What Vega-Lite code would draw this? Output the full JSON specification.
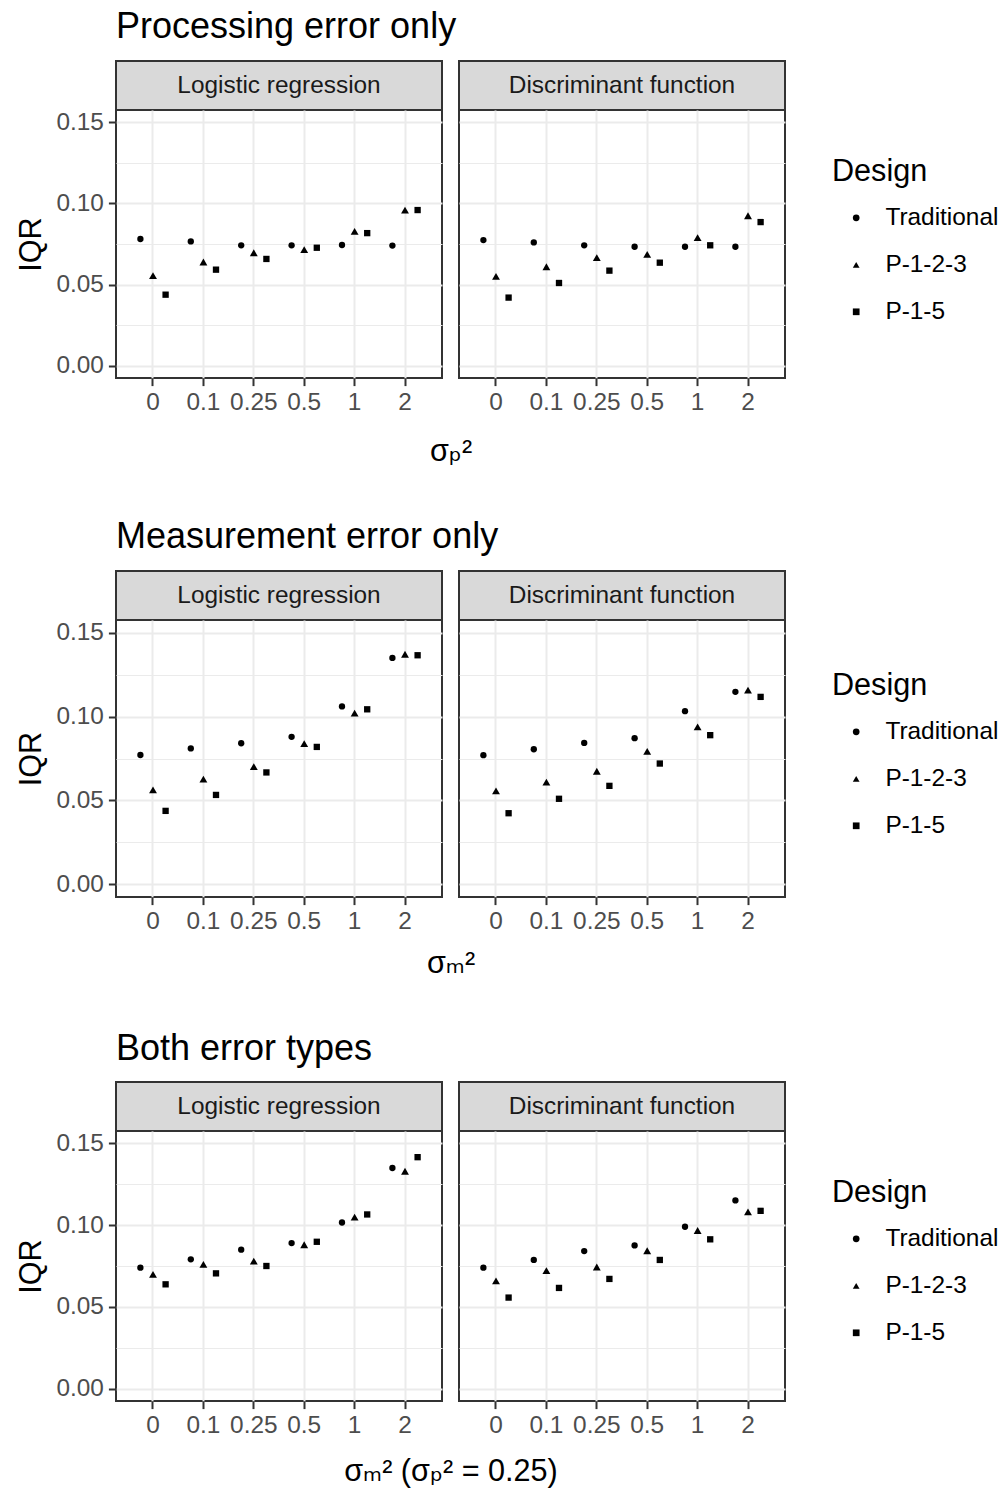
{
  "$schema": "https://vega.github.io/schema/vega-lite/v6.json",
  "background": "white",
  "autosize": {"type": "none"},
  "padding": {"left": 116, "top": 61, "right": 886, "bottom": 1434},
  "spacing": 50,
  "datasets": {
    "strips": [
      {"method": "Logistic regression"},
      {"method": "Discriminant function"}
    ],
    "pts": [
      {"section": "Processing", "method": "Logistic regression", "sigma": "0", "design": "Traditional", "iqr": 0.0781},
      {"section": "Processing", "method": "Logistic regression", "sigma": "0", "design": "P-1-2-3", "iqr": 0.0555},
      {"section": "Processing", "method": "Logistic regression", "sigma": "0", "design": "P-1-5", "iqr": 0.0438},
      {"section": "Processing", "method": "Logistic regression", "sigma": "0.1", "design": "Traditional", "iqr": 0.0766},
      {"section": "Processing", "method": "Logistic regression", "sigma": "0.1", "design": "P-1-2-3", "iqr": 0.0639},
      {"section": "Processing", "method": "Logistic regression", "sigma": "0.1", "design": "P-1-5", "iqr": 0.0592},
      {"section": "Processing", "method": "Logistic regression", "sigma": "0.25", "design": "Traditional", "iqr": 0.0742},
      {"section": "Processing", "method": "Logistic regression", "sigma": "0.25", "design": "P-1-2-3", "iqr": 0.0696},
      {"section": "Processing", "method": "Logistic regression", "sigma": "0.25", "design": "P-1-5", "iqr": 0.0658},
      {"section": "Processing", "method": "Logistic regression", "sigma": "0.5", "design": "Traditional", "iqr": 0.0742},
      {"section": "Processing", "method": "Logistic regression", "sigma": "0.5", "design": "P-1-2-3", "iqr": 0.0715},
      {"section": "Processing", "method": "Logistic regression", "sigma": "0.5", "design": "P-1-5", "iqr": 0.0727},
      {"section": "Processing", "method": "Logistic regression", "sigma": "1", "design": "Traditional", "iqr": 0.0744},
      {"section": "Processing", "method": "Logistic regression", "sigma": "1", "design": "P-1-2-3", "iqr": 0.0828},
      {"section": "Processing", "method": "Logistic regression", "sigma": "1", "design": "P-1-5", "iqr": 0.0817},
      {"section": "Processing", "method": "Logistic regression", "sigma": "2", "design": "Traditional", "iqr": 0.0740},
      {"section": "Processing", "method": "Logistic regression", "sigma": "2", "design": "P-1-2-3", "iqr": 0.0959},
      {"section": "Processing", "method": "Logistic regression", "sigma": "2", "design": "P-1-5", "iqr": 0.0959},
      {"section": "Processing", "method": "Discriminant function", "sigma": "0", "design": "Traditional", "iqr": 0.0774},
      {"section": "Processing", "method": "Discriminant function", "sigma": "0", "design": "P-1-2-3", "iqr": 0.0551},
      {"section": "Processing", "method": "Discriminant function", "sigma": "0", "design": "P-1-5", "iqr": 0.0420},
      {"section": "Processing", "method": "Discriminant function", "sigma": "0.1", "design": "Traditional", "iqr": 0.0760},
      {"section": "Processing", "method": "Discriminant function", "sigma": "0.1", "design": "P-1-2-3", "iqr": 0.0610},
      {"section": "Processing", "method": "Discriminant function", "sigma": "0.1", "design": "P-1-5", "iqr": 0.0510},
      {"section": "Processing", "method": "Discriminant function", "sigma": "0.25", "design": "Traditional", "iqr": 0.0742},
      {"section": "Processing", "method": "Discriminant function", "sigma": "0.25", "design": "P-1-2-3", "iqr": 0.0666},
      {"section": "Processing", "method": "Discriminant function", "sigma": "0.25", "design": "P-1-5", "iqr": 0.0586},
      {"section": "Processing", "method": "Discriminant function", "sigma": "0.5", "design": "Traditional", "iqr": 0.0733},
      {"section": "Processing", "method": "Discriminant function", "sigma": "0.5", "design": "P-1-2-3", "iqr": 0.0686},
      {"section": "Processing", "method": "Discriminant function", "sigma": "0.5", "design": "P-1-5", "iqr": 0.0635},
      {"section": "Processing", "method": "Discriminant function", "sigma": "1", "design": "Traditional", "iqr": 0.0733},
      {"section": "Processing", "method": "Discriminant function", "sigma": "1", "design": "P-1-2-3", "iqr": 0.0789},
      {"section": "Processing", "method": "Discriminant function", "sigma": "1", "design": "P-1-5", "iqr": 0.0742},
      {"section": "Processing", "method": "Discriminant function", "sigma": "2", "design": "Traditional", "iqr": 0.0733},
      {"section": "Processing", "method": "Discriminant function", "sigma": "2", "design": "P-1-2-3", "iqr": 0.0924},
      {"section": "Processing", "method": "Discriminant function", "sigma": "2", "design": "P-1-5", "iqr": 0.0885},
      {"section": "Measurement", "method": "Logistic regression", "sigma": "0", "design": "Traditional", "iqr": 0.0771},
      {"section": "Measurement", "method": "Logistic regression", "sigma": "0", "design": "P-1-2-3", "iqr": 0.0563},
      {"section": "Measurement", "method": "Logistic regression", "sigma": "0", "design": "P-1-5", "iqr": 0.0438},
      {"section": "Measurement", "method": "Logistic regression", "sigma": "0.1", "design": "Traditional", "iqr": 0.0810},
      {"section": "Measurement", "method": "Logistic regression", "sigma": "0.1", "design": "P-1-2-3", "iqr": 0.0627},
      {"section": "Measurement", "method": "Logistic regression", "sigma": "0.1", "design": "P-1-5", "iqr": 0.0533},
      {"section": "Measurement", "method": "Logistic regression", "sigma": "0.25", "design": "Traditional", "iqr": 0.0841},
      {"section": "Measurement", "method": "Logistic regression", "sigma": "0.25", "design": "P-1-2-3", "iqr": 0.0702},
      {"section": "Measurement", "method": "Logistic regression", "sigma": "0.25", "design": "P-1-5", "iqr": 0.0667},
      {"section": "Measurement", "method": "Logistic regression", "sigma": "0.5", "design": "Traditional", "iqr": 0.0879},
      {"section": "Measurement", "method": "Logistic regression", "sigma": "0.5", "design": "P-1-2-3", "iqr": 0.0839},
      {"section": "Measurement", "method": "Logistic regression", "sigma": "0.5", "design": "P-1-5", "iqr": 0.0819},
      {"section": "Measurement", "method": "Logistic regression", "sigma": "1", "design": "Traditional", "iqr": 0.1060},
      {"section": "Measurement", "method": "Logistic regression", "sigma": "1", "design": "P-1-2-3", "iqr": 0.1020},
      {"section": "Measurement", "method": "Logistic regression", "sigma": "1", "design": "P-1-5", "iqr": 0.1043},
      {"section": "Measurement", "method": "Logistic regression", "sigma": "2", "design": "Traditional", "iqr": 0.1349},
      {"section": "Measurement", "method": "Logistic regression", "sigma": "2", "design": "P-1-2-3", "iqr": 0.1371},
      {"section": "Measurement", "method": "Logistic regression", "sigma": "2", "design": "P-1-5", "iqr": 0.1365},
      {"section": "Measurement", "method": "Discriminant function", "sigma": "0", "design": "Traditional", "iqr": 0.0770},
      {"section": "Measurement", "method": "Discriminant function", "sigma": "0", "design": "P-1-2-3", "iqr": 0.0557},
      {"section": "Measurement", "method": "Discriminant function", "sigma": "0", "design": "P-1-5", "iqr": 0.0424},
      {"section": "Measurement", "method": "Discriminant function", "sigma": "0.1", "design": "Traditional", "iqr": 0.0805},
      {"section": "Measurement", "method": "Discriminant function", "sigma": "0.1", "design": "P-1-2-3", "iqr": 0.0609},
      {"section": "Measurement", "method": "Discriminant function", "sigma": "0.1", "design": "P-1-5", "iqr": 0.0510},
      {"section": "Measurement", "method": "Discriminant function", "sigma": "0.25", "design": "Traditional", "iqr": 0.0843},
      {"section": "Measurement", "method": "Discriminant function", "sigma": "0.25", "design": "P-1-2-3", "iqr": 0.0674},
      {"section": "Measurement", "method": "Discriminant function", "sigma": "0.25", "design": "P-1-5", "iqr": 0.0587},
      {"section": "Measurement", "method": "Discriminant function", "sigma": "0.5", "design": "Traditional", "iqr": 0.0871},
      {"section": "Measurement", "method": "Discriminant function", "sigma": "0.5", "design": "P-1-2-3", "iqr": 0.0792},
      {"section": "Measurement", "method": "Discriminant function", "sigma": "0.5", "design": "P-1-5", "iqr": 0.0720},
      {"section": "Measurement", "method": "Discriminant function", "sigma": "1", "design": "Traditional", "iqr": 0.1032},
      {"section": "Measurement", "method": "Discriminant function", "sigma": "1", "design": "P-1-2-3", "iqr": 0.0938},
      {"section": "Measurement", "method": "Discriminant function", "sigma": "1", "design": "P-1-5", "iqr": 0.0889},
      {"section": "Measurement", "method": "Discriminant function", "sigma": "2", "design": "Traditional", "iqr": 0.1147},
      {"section": "Measurement", "method": "Discriminant function", "sigma": "2", "design": "P-1-2-3", "iqr": 0.1157},
      {"section": "Measurement", "method": "Discriminant function", "sigma": "2", "design": "P-1-5", "iqr": 0.1117},
      {"section": "Both", "method": "Logistic regression", "sigma": "0", "design": "Traditional", "iqr": 0.0740},
      {"section": "Both", "method": "Logistic regression", "sigma": "0", "design": "P-1-2-3", "iqr": 0.0699},
      {"section": "Both", "method": "Logistic regression", "sigma": "0", "design": "P-1-5", "iqr": 0.0638},
      {"section": "Both", "method": "Logistic regression", "sigma": "0.1", "design": "Traditional", "iqr": 0.0791},
      {"section": "Both", "method": "Logistic regression", "sigma": "0.1", "design": "P-1-2-3", "iqr": 0.0760},
      {"section": "Both", "method": "Logistic regression", "sigma": "0.1", "design": "P-1-5", "iqr": 0.0705},
      {"section": "Both", "method": "Logistic regression", "sigma": "0.25", "design": "Traditional", "iqr": 0.0850},
      {"section": "Both", "method": "Logistic regression", "sigma": "0.25", "design": "P-1-2-3", "iqr": 0.0780},
      {"section": "Both", "method": "Logistic regression", "sigma": "0.25", "design": "P-1-5", "iqr": 0.0750},
      {"section": "Both", "method": "Logistic regression", "sigma": "0.5", "design": "Traditional", "iqr": 0.0890},
      {"section": "Both", "method": "Logistic regression", "sigma": "0.5", "design": "P-1-2-3", "iqr": 0.0880},
      {"section": "Both", "method": "Logistic regression", "sigma": "0.5", "design": "P-1-5", "iqr": 0.0898},
      {"section": "Both", "method": "Logistic regression", "sigma": "1", "design": "Traditional", "iqr": 0.1016},
      {"section": "Both", "method": "Logistic regression", "sigma": "1", "design": "P-1-2-3", "iqr": 0.1049},
      {"section": "Both", "method": "Logistic regression", "sigma": "1", "design": "P-1-5", "iqr": 0.1065},
      {"section": "Both", "method": "Logistic regression", "sigma": "2", "design": "Traditional", "iqr": 0.1349},
      {"section": "Both", "method": "Logistic regression", "sigma": "2", "design": "P-1-2-3", "iqr": 0.1329},
      {"section": "Both", "method": "Logistic regression", "sigma": "2", "design": "P-1-5", "iqr": 0.1415},
      {"section": "Both", "method": "Discriminant function", "sigma": "0", "design": "Traditional", "iqr": 0.0740},
      {"section": "Both", "method": "Discriminant function", "sigma": "0", "design": "P-1-2-3", "iqr": 0.0659},
      {"section": "Both", "method": "Discriminant function", "sigma": "0", "design": "P-1-5", "iqr": 0.0557},
      {"section": "Both", "method": "Discriminant function", "sigma": "0.1", "design": "Traditional", "iqr": 0.0787},
      {"section": "Both", "method": "Discriminant function", "sigma": "0.1", "design": "P-1-2-3", "iqr": 0.0722},
      {"section": "Both", "method": "Discriminant function", "sigma": "0.1", "design": "P-1-5", "iqr": 0.0616},
      {"section": "Both", "method": "Discriminant function", "sigma": "0.25", "design": "Traditional", "iqr": 0.0841},
      {"section": "Both", "method": "Discriminant function", "sigma": "0.25", "design": "P-1-2-3", "iqr": 0.0744},
      {"section": "Both", "method": "Discriminant function", "sigma": "0.25", "design": "P-1-5", "iqr": 0.0671},
      {"section": "Both", "method": "Discriminant function", "sigma": "0.5", "design": "Traditional", "iqr": 0.0876},
      {"section": "Both", "method": "Discriminant function", "sigma": "0.5", "design": "P-1-2-3", "iqr": 0.0843},
      {"section": "Both", "method": "Discriminant function", "sigma": "0.5", "design": "P-1-5", "iqr": 0.0787},
      {"section": "Both", "method": "Discriminant function", "sigma": "1", "design": "Traditional", "iqr": 0.0990},
      {"section": "Both", "method": "Discriminant function", "sigma": "1", "design": "P-1-2-3", "iqr": 0.0967},
      {"section": "Both", "method": "Discriminant function", "sigma": "1", "design": "P-1-5", "iqr": 0.0913},
      {"section": "Both", "method": "Discriminant function", "sigma": "2", "design": "Traditional", "iqr": 0.1151},
      {"section": "Both", "method": "Discriminant function", "sigma": "2", "design": "P-1-2-3", "iqr": 0.1081},
      {"section": "Both", "method": "Discriminant function", "sigma": "2", "design": "P-1-5", "iqr": 0.1087}
    ]
  },
  "config": {
    "font": "Liberation Sans",
    "view": {"stroke": "#333333", "strokeWidth": 2},
    "point": {"size": 42, "filled": true, "color": "#000000", "opacity": 1},
    "axis": {
      "labelFont": "Liberation Sans",
      "labelFontSize": 24.4,
      "labelColor": "#4d4d4d",
      "tickColor": "#333333",
      "tickSize": 7.6,
      "tickWidth": 2,
      "domain": false,
      "gridColor": "#ebebeb",
      "titleFont": "Liberation Sans, DejaVu Sans",
      "titleFontSize": 30.6,
      "titleFontWeight": "normal",
      "titleColor": "#000000",
      "labelPadding": 5,
      "labelOverlap": false,
      "labelFlush": false,
      "labelBound": false
    },
    "legend": {
      "titleFont": "Liberation Sans",
      "titleFontSize": 30.6,
      "titleFontWeight": "normal",
      "titleColor": "#000000",
      "labelFont": "Liberation Sans",
      "labelFontSize": 24.4,
      "labelColor": "#000000",
      "rowPadding": 22,
      "titlePadding": 18,
      "symbolSize": 45,
      "symbolFillColor": "#000000",
      "symbolStrokeWidth": 0,
      "labelOffset": 17,
      "symbolOffset": 12,
      "padding": 0
    },
    "title": {"font": "Liberation Sans", "fontSize": 36, "fontWeight": "normal", "color": "#000000", "anchor": "start", "offset": 15}
  },
  "resolve": {"scale": {"shape": "independent"}},
  "vconcat": [
    {
      "columns": 2,
      "spacing": {"row": 0, "column": 17},
      "bounds": "flush",
      "resolve": {"scale": {"shape": "independent"}},
      "concat": [
        {
          "title": {"text": "Processing error only"},
          "width": 326, "height": 49,
          "view": {"fill": "#d9d9d9", "stroke": "#333333", "strokeWidth": 2},
          "data": {"name": "strips"},
          "transform": [{"filter": "datum.method == 'Logistic regression'"}],
          "mark": {"type": "text", "fontSize": 24.4, "color": "#1a1a1a", "align": "center", "baseline": "middle"},
          "encoding": {"text": {"field": "method", "type": "nominal"}}
        },
        {
          "width": 326, "height": 49,
          "view": {"fill": "#d9d9d9", "stroke": "#333333", "strokeWidth": 2},
          "data": {"name": "strips"},
          "transform": [{"filter": "datum.method == 'Discriminant function'"}],
          "mark": {"type": "text", "fontSize": 24.4, "color": "#1a1a1a", "align": "center", "baseline": "middle"},
          "encoding": {"text": {"field": "method", "type": "nominal"}}
        },
        {
          "width": 326, "height": 268,
          "data": {"name": "pts"},
          "transform": [{"filter": "datum.section == 'Processing' && datum.method == 'Logistic regression'"}],
          "mark": {"type": "point"},
          "encoding": {
            "x": {"field": "sigma", "type": "ordinal", "scale": {"domain": ["0", "0.1", "0.25", "0.5", "1", "2"], "paddingInner": 0, "paddingOuter": 0.234},
                  "axis": {"title": "σₚ²", "titleX": 334.5, "titlePadding": 22, "grid": true, "gridWidth": 2, "bandPosition": 0.5, "labelAngle": 0}},
            "xOffset": {"field": "design", "type": "nominal", "scale": {"domain": ["Traditional", "P-1-2-3", "P-1-5"], "paddingInner": 0, "paddingOuter": 1.86}},
            "y": {"field": "iqr", "type": "quantitative", "scale": {"domain": [-0.0075, 0.1575], "nice": false, "zero": false},
                  "axis": {"title": "IQR", "titlePadding": 9, "values": [0, 0.025, 0.05, 0.075, 0.1, 0.125, 0.15], "format": ".2f",
                           "labelExpr": "round(datum.value*1000) % 50 == 0 ? datum.label : ''",
                           "tickOpacity": {"condition": {"test": "round(datum.value*1000) % 50 != 0", "value": 0}, "value": 1},
                           "gridWidth": {"condition": {"test": "round(datum.value*1000) % 50 != 0", "value": 1}, "value": 2}}},
            "shape": {"field": "design", "type": "nominal", "scale": {"domain": ["Traditional", "P-1-2-3", "P-1-5"], "range": ["circle", "triangle-up", "square"]}, "legend": null},
            "size": {"condition": {"test": "datum.design == 'P-1-2-3'", "value": 62}, "value": 40}
          }
        },
        {
          "width": 326, "height": 268,
          "data": {"name": "pts"},
          "transform": [{"filter": "datum.section == 'Processing' && datum.method == 'Discriminant function'"}],
          "mark": {"type": "point"},
          "encoding": {
            "x": {"field": "sigma", "type": "ordinal", "scale": {"domain": ["0", "0.1", "0.25", "0.5", "1", "2"], "paddingInner": 0, "paddingOuter": 0.234},
                  "axis": {"title": null, "grid": true, "gridWidth": 2, "bandPosition": 0.5, "labelAngle": 0}},
            "xOffset": {"field": "design", "type": "nominal", "scale": {"domain": ["Traditional", "P-1-2-3", "P-1-5"], "paddingInner": 0, "paddingOuter": 1.86}},
            "y": {"field": "iqr", "type": "quantitative", "scale": {"domain": [-0.0075, 0.1575], "nice": false, "zero": false},
                  "axis": {"title": null, "labels": false, "ticks": false, "values": [0, 0.025, 0.05, 0.075, 0.1, 0.125, 0.15],
                           "gridWidth": {"condition": {"test": "round(datum.value*1000) % 50 != 0", "value": 1}, "value": 2}}},
            "shape": {"field": "design", "type": "nominal", "scale": {"domain": ["Traditional", "P-1-2-3", "P-1-5"], "range": ["circle", "triangle-up", "square"]},
                      "legend": {"title": "Design", "orient": "none", "legendX": 373, "legendY": 47}},
            "size": {"condition": {"test": "datum.design == 'P-1-2-3'", "value": 62}, "value": 40}
          }
        }
      ]
    },
    {
      "columns": 2,
      "spacing": {"row": 0, "column": 17},
      "bounds": "flush",
      "resolve": {"scale": {"shape": "independent"}},
      "concat": [
        {
          "title": {"text": "Measurement error only"},
          "width": 326, "height": 49,
          "view": {"fill": "#d9d9d9", "stroke": "#333333", "strokeWidth": 2},
          "data": {"name": "strips"},
          "transform": [{"filter": "datum.method == 'Logistic regression'"}],
          "mark": {"type": "text", "fontSize": 24.4, "color": "#1a1a1a", "align": "center", "baseline": "middle"},
          "encoding": {"text": {"field": "method", "type": "nominal"}}
        },
        {
          "width": 326, "height": 49,
          "view": {"fill": "#d9d9d9", "stroke": "#333333", "strokeWidth": 2},
          "data": {"name": "strips"},
          "transform": [{"filter": "datum.method == 'Discriminant function'"}],
          "mark": {"type": "text", "fontSize": 24.4, "color": "#1a1a1a", "align": "center", "baseline": "middle"},
          "encoding": {"text": {"field": "method", "type": "nominal"}}
        },
        {
          "width": 326, "height": 277,
          "data": {"name": "pts"},
          "transform": [{"filter": "datum.section == 'Measurement' && datum.method == 'Logistic regression'"}],
          "mark": {"type": "point"},
          "encoding": {
            "x": {"field": "sigma", "type": "ordinal", "scale": {"domain": ["0", "0.1", "0.25", "0.5", "1", "2"], "paddingInner": 0, "paddingOuter": 0.234},
                  "axis": {"title": "σₘ²", "titleX": 334.5, "titlePadding": 15, "grid": true, "gridWidth": 2, "bandPosition": 0.5, "labelAngle": 0}},
            "xOffset": {"field": "design", "type": "nominal", "scale": {"domain": ["Traditional", "P-1-2-3", "P-1-5"], "paddingInner": 0, "paddingOuter": 1.86}},
            "y": {"field": "iqr", "type": "quantitative", "scale": {"domain": [-0.0075, 0.1575], "nice": false, "zero": false},
                  "axis": {"title": "IQR", "titlePadding": 9, "values": [0, 0.025, 0.05, 0.075, 0.1, 0.125, 0.15], "format": ".2f",
                           "labelExpr": "round(datum.value*1000) % 50 == 0 ? datum.label : ''",
                           "tickOpacity": {"condition": {"test": "round(datum.value*1000) % 50 != 0", "value": 0}, "value": 1},
                           "gridWidth": {"condition": {"test": "round(datum.value*1000) % 50 != 0", "value": 1}, "value": 2}}},
            "shape": {"field": "design", "type": "nominal", "scale": {"domain": ["Traditional", "P-1-2-3", "P-1-5"], "range": ["circle", "triangle-up", "square"]}, "legend": null},
            "size": {"condition": {"test": "datum.design == 'P-1-2-3'", "value": 62}, "value": 40}
          }
        },
        {
          "width": 326, "height": 277,
          "data": {"name": "pts"},
          "transform": [{"filter": "datum.section == 'Measurement' && datum.method == 'Discriminant function'"}],
          "mark": {"type": "point"},
          "encoding": {
            "x": {"field": "sigma", "type": "ordinal", "scale": {"domain": ["0", "0.1", "0.25", "0.5", "1", "2"], "paddingInner": 0, "paddingOuter": 0.234},
                  "axis": {"title": null, "grid": true, "gridWidth": 2, "bandPosition": 0.5, "labelAngle": 0}},
            "xOffset": {"field": "design", "type": "nominal", "scale": {"domain": ["Traditional", "P-1-2-3", "P-1-5"], "paddingInner": 0, "paddingOuter": 1.86}},
            "y": {"field": "iqr", "type": "quantitative", "scale": {"domain": [-0.0075, 0.1575], "nice": false, "zero": false},
                  "axis": {"title": null, "labels": false, "ticks": false, "values": [0, 0.025, 0.05, 0.075, 0.1, 0.125, 0.15],
                           "gridWidth": {"condition": {"test": "round(datum.value*1000) % 50 != 0", "value": 1}, "value": 2}}},
            "shape": {"field": "design", "type": "nominal", "scale": {"domain": ["Traditional", "P-1-2-3", "P-1-5"], "range": ["circle", "triangle-up", "square"]},
                      "legend": {"title": "Design", "orient": "none", "legendX": 373, "legendY": 51}},
            "size": {"condition": {"test": "datum.design == 'P-1-2-3'", "value": 62}, "value": 40}
          }
        }
      ]
    },
    {
      "columns": 2,
      "spacing": {"row": 0, "column": 17},
      "bounds": "flush",
      "resolve": {"scale": {"shape": "independent"}},
      "concat": [
        {
          "title": {"text": "Both error types", "offset": 14},
          "width": 326, "height": 49,
          "view": {"fill": "#d9d9d9", "stroke": "#333333", "strokeWidth": 2},
          "data": {"name": "strips"},
          "transform": [{"filter": "datum.method == 'Logistic regression'"}],
          "mark": {"type": "text", "fontSize": 24.4, "color": "#1a1a1a", "align": "center", "baseline": "middle"},
          "encoding": {"text": {"field": "method", "type": "nominal"}}
        },
        {
          "width": 326, "height": 49,
          "view": {"fill": "#d9d9d9", "stroke": "#333333", "strokeWidth": 2},
          "data": {"name": "strips"},
          "transform": [{"filter": "datum.method == 'Discriminant function'"}],
          "mark": {"type": "text", "fontSize": 24.4, "color": "#1a1a1a", "align": "center", "baseline": "middle"},
          "encoding": {"text": {"field": "method", "type": "nominal"}}
        },
        {
          "width": 326, "height": 270,
          "data": {"name": "pts"},
          "transform": [{"filter": "datum.section == 'Both' && datum.method == 'Logistic regression'"}],
          "mark": {"type": "point"},
          "encoding": {
            "x": {"field": "sigma", "type": "ordinal", "scale": {"domain": ["0", "0.1", "0.25", "0.5", "1", "2"], "paddingInner": 0, "paddingOuter": 0.234},
                  "axis": {"title": "σₘ² (σₚ² = 0.25)", "titleX": 334.5, "titlePadding": 19, "grid": true, "gridWidth": 2, "bandPosition": 0.5, "labelAngle": 0}},
            "xOffset": {"field": "design", "type": "nominal", "scale": {"domain": ["Traditional", "P-1-2-3", "P-1-5"], "paddingInner": 0, "paddingOuter": 1.86}},
            "y": {"field": "iqr", "type": "quantitative", "scale": {"domain": [-0.0075, 0.1575], "nice": false, "zero": false},
                  "axis": {"title": "IQR", "titlePadding": 9, "values": [0, 0.025, 0.05, 0.075, 0.1, 0.125, 0.15], "format": ".2f",
                           "labelExpr": "round(datum.value*1000) % 50 == 0 ? datum.label : ''",
                           "tickOpacity": {"condition": {"test": "round(datum.value*1000) % 50 != 0", "value": 0}, "value": 1},
                           "gridWidth": {"condition": {"test": "round(datum.value*1000) % 50 != 0", "value": 1}, "value": 2}}},
            "shape": {"field": "design", "type": "nominal", "scale": {"domain": ["Traditional", "P-1-2-3", "P-1-5"], "range": ["circle", "triangle-up", "square"]}, "legend": null},
            "size": {"condition": {"test": "datum.design == 'P-1-2-3'", "value": 62}, "value": 40}
          }
        },
        {
          "width": 326, "height": 270,
          "data": {"name": "pts"},
          "transform": [{"filter": "datum.section == 'Both' && datum.method == 'Discriminant function'"}],
          "mark": {"type": "point"},
          "encoding": {
            "x": {"field": "sigma", "type": "ordinal", "scale": {"domain": ["0", "0.1", "0.25", "0.5", "1", "2"], "paddingInner": 0, "paddingOuter": 0.234},
                  "axis": {"title": null, "grid": true, "gridWidth": 2, "bandPosition": 0.5, "labelAngle": 0}},
            "xOffset": {"field": "design", "type": "nominal", "scale": {"domain": ["Traditional", "P-1-2-3", "P-1-5"], "paddingInner": 0, "paddingOuter": 1.86}},
            "y": {"field": "iqr", "type": "quantitative", "scale": {"domain": [-0.0075, 0.1575], "nice": false, "zero": false},
                  "axis": {"title": null, "labels": false, "ticks": false, "values": [0, 0.025, 0.05, 0.075, 0.1, 0.125, 0.15],
                           "gridWidth": {"condition": {"test": "round(datum.value*1000) % 50 != 0", "value": 1}, "value": 2}}},
            "shape": {"field": "design", "type": "nominal", "scale": {"domain": ["Traditional", "P-1-2-3", "P-1-5"], "range": ["circle", "triangle-up", "square"]},
                      "legend": {"title": "Design", "orient": "none", "legendX": 373, "legendY": 47}},
            "size": {"condition": {"test": "datum.design == 'P-1-2-3'", "value": 62}, "value": 40}
          }
        }
      ]
    }
  ]
}
